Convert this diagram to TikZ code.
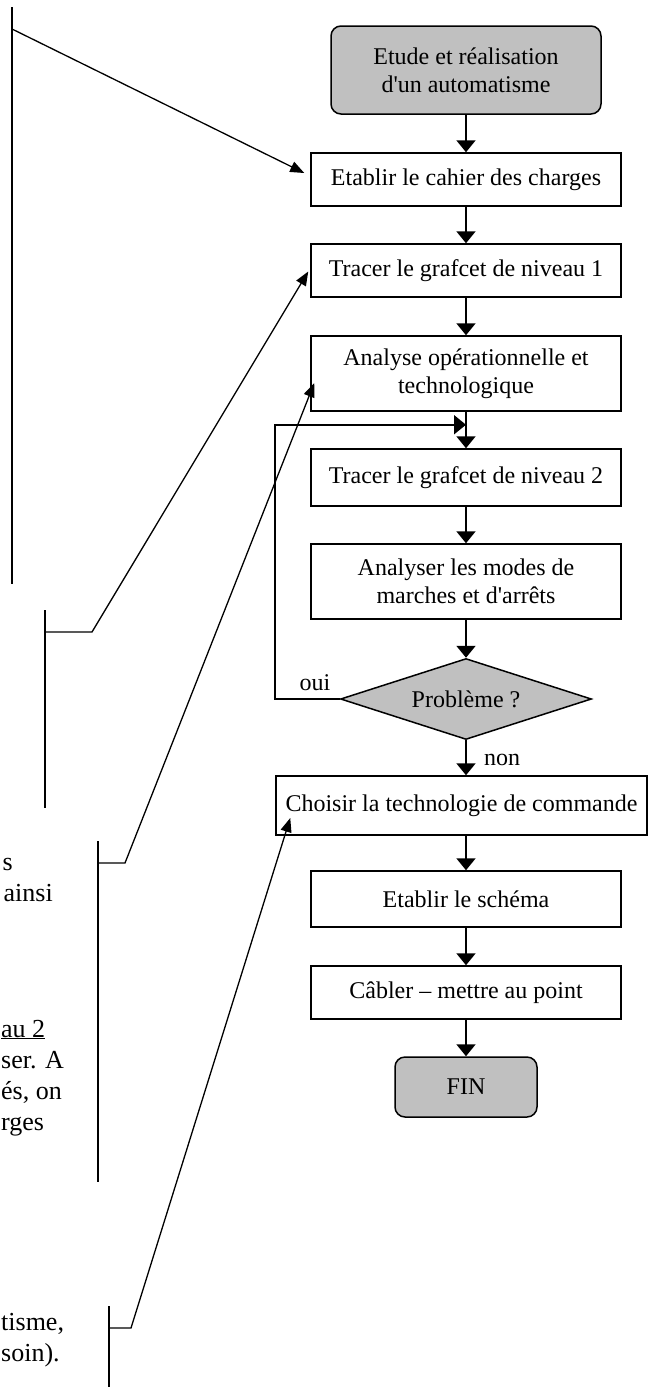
\documentclass[tikz,border=0pt]{standalone}
\usepackage{fontspec}
\setmainfont{Liberation Serif}
\usetikzlibrary{arrows.meta,shapes.geometric,calc}
\definecolor{boxgray}{HTML}{C0C0C0}
\newcommand{\mybodyfont}{\fontsize{24}{27.6}\selectfont}
\newcommand{\myfragfont}{\fontsize{26}{31}\selectfont}
\begin{document}
\begin{tikzpicture}[x=1pt,y=-1pt,
  box/.style={draw,line width=1.5pt,minimum width=310pt,minimum height=55pt,align=center,inner sep=2pt,font=\mybodyfont},
  endbox/.style={box,rounded corners=10pt,fill=boxgray},
  flow/.style={line width=2pt,-{Triangle[length=12pt,width=19pt]}},
  side/.style={line width=1.3pt},
  sidearrow/.style={side,-{Triangle[length=14pt,width=11pt]}},
  lbl/.style={font=\mybodyfont,inner sep=0pt},
  frag/.style={font=\myfragfont,inner sep=0pt,anchor=base east},
  fragw/.style={font=\myfragfont,inner sep=0pt,anchor=base west}
]
\useasboundingbox (0,0) rectangle (649,1387);

% main flow
\node[endbox,minimum width=270pt,minimum height=88pt] (start) at (466,70) {Etude et réalisation\\d\textquotesingle un automatisme};
\node[box,minimum height=53pt] (b1) at (466,179.5) {Etablir le cahier des charges};
\node[box,minimum height=53pt] (b2) at (466,270.5) {Tracer le grafcet de niveau 1};
\node[box,minimum height=75pt] (b3) at (466,373.5) {Analyse opérationnelle et\\technologique};
\node[box,minimum height=57pt] (b4) at (466,477.5) {Tracer le grafcet de niveau 2};
\node[box,minimum height=75pt] (b5) at (466,581.5) {Analyser les modes de\\marches et d\textquotesingle arrêts};
\node[draw,diamond,aspect=3.1,fill=boxgray,line width=1.5pt,minimum width=251pt,minimum height=81pt,inner sep=0pt,font=\mybodyfont] (dia) at (466,699) {Problème ?};
\node[box,minimum width=371pt,minimum height=59pt] (b6) at (461.5,805.5) {Choisir la technologie de commande};
\node[box,minimum height=56pt] (b7) at (466,899) {Etablir le schéma};
\node[box,minimum height=53pt] (b8) at (466,992.5) {Câbler -- mettre au point};
\node[endbox,minimum width=142pt,minimum height=60pt] (fin) at (466,1087) {FIN};

\draw[flow] (start) -- (b1);
\draw[flow] (b1) -- (b2);
\draw[flow] (b2) -- (b3);
\draw[flow] (b3) -- (b4);
\draw[flow] (b4) -- (b5);
\draw[flow] (b5) -- (dia);
\draw[flow] (dia.south) -- (dia.south |- b6.north);
\draw[flow] (b7.north |- b6.south) -- (b7.north);
\draw[flow] (b7) -- (b8);
\draw[flow] (b8) -- (fin);

\coordinate (loopend) at ([yshift=-13pt]b3.south);
\draw[flow] (dia.west) -- ++(-65,0) |- (loopend);
\node[lbl] (oui) at (315,683) {oui};
\node[lbl] (non) at (502,760) {non};

% left brackets and pointers
\coordinate (v1a) at (12,7);
\coordinate (v1b) at (12,584);
\coordinate (t1) at (12,29);
\draw[side] (v1a) -- (v1b);
\draw[sidearrow] (t1) -- ($(b1.west)+(-6,-6.5)$);

\coordinate (v2a) at (45,610);
\coordinate (v2b) at (45,808);
\coordinate (t2) at (45,632);
\coordinate (k2) at (92,632);
\draw[side] (v2a) -- (v2b);
\draw[sidearrow] (t2) -- (k2) -- ($(b2.west)+(-2,1)$);

\coordinate (v3a) at (98,841);
\coordinate (v3b) at (98,1182);
\coordinate (t3) at (98,863);
\coordinate (k3) at (125,863);
\draw[side] (v3a) -- (v3b);
\draw[sidearrow] (t3) -- (k3) -- ($(b3.west)+(4,9.5)$);

\coordinate (v4a) at (109,1306);
\coordinate (v4b) at (109,1387);
\coordinate (t4) at (109,1328);
\coordinate (k4) at (131,1328);
\draw[side] (v4a) -- (v4b);
\draw[sidearrow] (t4) -- (k4) -- ($(b6.west)+(15,12.5)$);

% text fragments at the left edge
\node[frag] (f1) at (13,870) {s};
\node[frag] (f2) at (53,901) {ainsi};
\node[fragw] (f3) at (1,1037) {\underline{au 2}};
\node[fragw] (f4) at (1,1068) {ser. A};
\node[fragw] (f5) at (1,1099) {és, on};
\node[fragw] (f6) at (1,1130) {rges};
\node[fragw] (f7) at (1,1330) {tisme,};
\node[fragw] (f8) at (1,1361) {soin).};
\end{tikzpicture}
\end{document}
